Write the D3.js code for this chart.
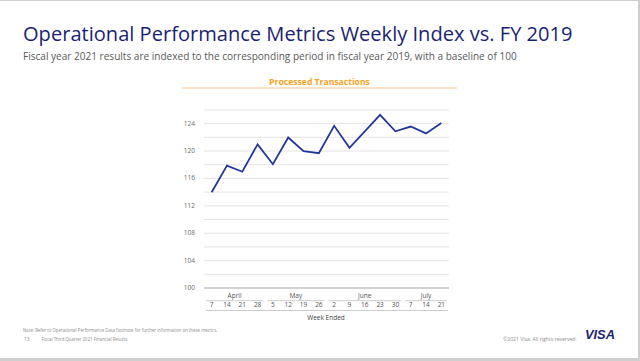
<!DOCTYPE html>
<html>
<head>
<meta charset="utf-8">
<script src="https://cdn.jsdelivr.net/npm/d3@7"></script>
<style>
  html, body { margin: 0; padding: 0; background: #cfcfcf; }
  svg { display: block; font-family: "Open Sans", "Noto Sans", sans-serif; }
</style>
</head>
<body>
<div id="chart"></div>
<script>
// --- Data ---
const weeks = ['7', '14', '21', '28', '5', '12', '19', '26', '2', '9', '16', '23', '30', '7', '14', '21'];
const months = ['April', 'May', 'June', 'July'];
const monthWeekCounts = [4, 4, 5, 3];
const values = [113.9, 117.8, 116.9, 120.9, 118.0, 121.9, 119.9, 119.6, 123.6, 120.4, 122.8, 125.2, 122.8, 123.5, 122.5, 124.0];
const yLabelTicks = [100, 104, 108, 112, 116, 120, 124];
const yGridTicks = d3.range(100, 127, 2);

const width = 640, height = 361;
const svg = d3.select('#chart').append('svg')
  .attr('width', width)
  .attr('height', height);

// slide background
svg.append('rect')
  .attr('x', 0).attr('y', 1)
  .attr('width', 638).attr('height', 357)
  .attr('fill', '#fff');

// shrink/grow a text node so it spans a given width
function fitWidth(sel, target) {
  const node = sel.node();
  const fs = parseFloat(sel.attr('font-size'));
  const w = node.getComputedTextLength();
  if (w > 0) sel.attr('font-size', fs * target / w);
}

// --- Titles ---
const title = svg.append('text')
  .attr('x', 23).attr('y', 41)
  .attr('font-size', 22)
  .attr('fill', '#1a1f71')
  .text('Operational Performance Metrics Weekly Index vs. FY 2019');
fitWidth(title, 550);

const subtitle = svg.append('text')
  .attr('x', 23).attr('y', 60)
  .attr('font-size', 10.5)
  .attr('fill', '#595959')
  .text('Fiscal year 2021 results are indexed to the corresponding period in fiscal year 2019, with a baseline of 100');
fitWidth(subtitle, 494);

const chartTitle = svg.append('text')
  .attr('x', 319.5).attr('y', 84.5)
  .attr('text-anchor', 'middle')
  .attr('font-size', 9.5)
  .attr('font-weight', 'bold')
  .attr('fill', '#f7a21b')
  .text('Processed Transactions');
fitWidth(chartTitle, 101);

svg.append('line')
  .attr('x1', 182).attr('x2', 457)
  .attr('y1', 88).attr('y2', 88)
  .attr('stroke', '#fbc88a')
  .attr('stroke-width', 1.2);

// --- Scales ---
const x = d3.scaleBand()
  .domain(d3.range(weeks.length))
  .range([204, 449]);

const y = d3.scaleLinear()
  .domain([100, 126])
  .range([287.5, 109.4]);

// gridlines
const grid = svg.append('g')
  .attr('transform', 'translate(204,0)')
  .call(d3.axisLeft(y).tickValues(yGridTicks).tickSize(-245).tickFormat(''));
grid.select('.domain').remove();
grid.selectAll('.tick line')
  .attr('stroke', d => d === 100 ? '#a6a6a6' : '#e4e4e4')
  .attr('stroke-width', d => d === 100 ? 1.2 : 1);

// y labels
const yAxis = svg.append('g')
  .attr('transform', 'translate(195,0)')
  .call(d3.axisLeft(y).tickValues(yLabelTicks).tickSize(0).tickPadding(0));
yAxis.select('.domain').remove();
yAxis.selectAll('text')
  .attr('font-size', 6.5)
  .attr('fill', '#6b6b6b')
  .attr('font-family', '"Open Sans", sans-serif');

// --- Line ---
const line = d3.line()
  .x((d, i) => x(i) + x.bandwidth() / 2)
  .y(d => y(d));

svg.append('path')
  .datum(values)
  .attr('fill', 'none')
  .attr('stroke', '#23389a')
  .attr('stroke-width', 1.8)
  .attr('stroke-linejoin', 'miter')
  .attr('d', line);

// --- X axis: weeks ---
const xAxis = svg.append('g')
  .attr('transform', 'translate(0,302)')
  .call(d3.axisBottom(x).tickSize(0).tickPadding(0).tickFormat(i => weeks[i]));
xAxis.select('.domain').remove();
xAxis.selectAll('text')
  .attr('font-size', 6.5)
  .attr('fill', '#555')
  .attr('font-family', '"Open Sans", sans-serif');

// month groups
let start = 0;
months.forEach((m, k) => {
  const end = start + monthWeekCounts[k] - 1;
  const x0 = x(start) + 2;
  const x1 = x(end) + x.bandwidth() - 2;
  svg.append('line')
    .attr('x1', x0).attr('x2', x1)
    .attr('y1', 300.7).attr('y2', 300.7)
    .attr('stroke', '#bfbfbf')
    .attr('stroke-width', 0.8);
  svg.append('text')
    .attr('x', (x0 + x1) / 2).attr('y', 298)
    .attr('text-anchor', 'middle')
    .attr('font-size', 6.5)
    .attr('fill', '#555')
    .text(m);
  start = end + 1;
});

svg.append('line')
  .attr('x1', 206).attr('x2', 448)
  .attr('y1', 310.5).attr('y2', 310.5)
  .attr('stroke', '#bfbfbf')
  .attr('stroke-width', 0.8);

svg.append('text')
  .attr('x', 326).attr('y', 320)
  .attr('text-anchor', 'middle')
  .attr('font-size', 6.5)
  .attr('fill', '#444')
  .text('Week Ended');

// --- Footer ---
const note = svg.append('text')
  .attr('x', 23).attr('y', 331.5)
  .attr('font-size', 4.5)
  .attr('fill', '#8c8c8c')
  .text('Note: Refer to Operational Performance Data footnote for further information on these metrics.');
fitWidth(note, 195);

svg.append('text')
  .attr('x', 24).attr('y', 341)
  .attr('font-size', 4.8)
  .attr('fill', '#8c8c8c')
  .text('13');

const footLeft = svg.append('text')
  .attr('x', 41.5).attr('y', 341)
  .attr('font-size', 4.5)
  .attr('fill', '#8c8c8c')
  .text('Fiscal Third Quarter 2021 Financial Results');
fitWidth(footLeft, 86);

const footRight = svg.append('text')
  .attr('x', 503).attr('y', 341)
  .attr('font-size', 4.5)
  .attr('fill', '#8c8c8c')
  .text('©2021 Visa. All rights reserved.');
fitWidth(footRight, 74);

const visa = svg.append('text')
  .attr('x', 585).attr('y', 339)
  .attr('font-size', 11)
  .attr('font-weight', 'bold')
  .attr('font-style', 'italic')
  .attr('fill', '#1a1f71')
  .attr('font-family', '"Liberation Sans", Arial, sans-serif')
  .text('VISA');
fitWidth(visa, 30);
</script>
</body>
</html>
